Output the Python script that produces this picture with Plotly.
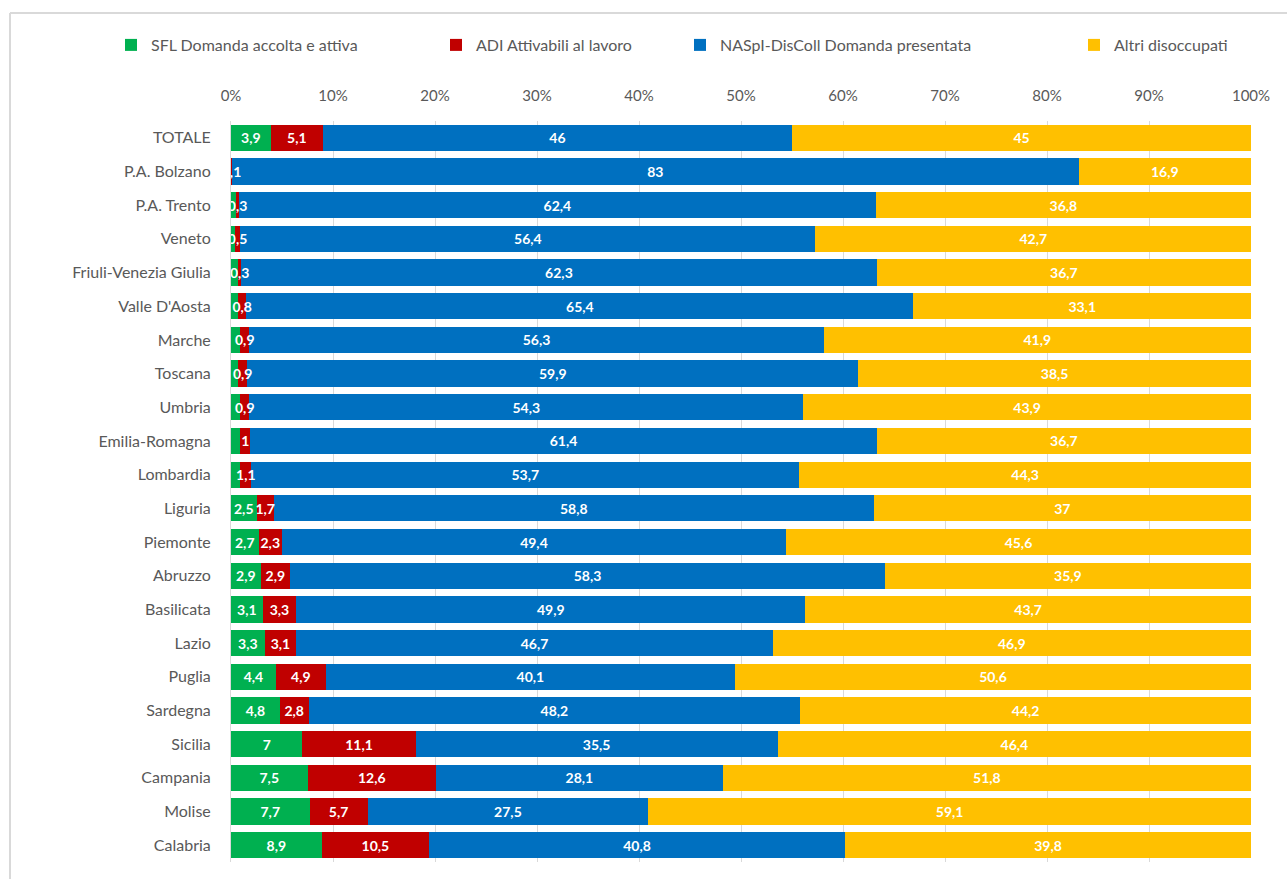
import plotly.graph_objects as go

categories = ["TOTALE", "P.A. Bolzano", "P.A. Trento", "Veneto", "Friuli-Venezia Giulia",
              "Valle D'Aosta", "Marche", "Toscana", "Umbria", "Emilia-Romagna", "Lombardia",
              "Liguria", "Piemonte", "Abruzzo", "Basilicata", "Lazio", "Puglia", "Sardegna",
              "Sicilia", "Campania", "Molise", "Calabria"]
sfl = [3.9, 0.0, 0.5, 0.4, 0.7, 0.7, 0.9, 0.7, 0.9, 0.9, 0.9,
       2.5, 2.7, 2.9, 3.1, 3.3, 4.4, 4.8, 7, 7.5, 7.7, 8.9]
adi = [5.1, 0.1, 0.3, 0.5, 0.3, 0.8, 0.9, 0.9, 0.9, 1, 1.1,
       1.7, 2.3, 2.9, 3.3, 3.1, 4.9, 2.8, 11.1, 12.6, 5.7, 10.5]
naspi = [46, 83, 62.4, 56.4, 62.3, 65.4, 56.3, 59.9, 54.3, 61.4, 53.7,
         58.8, 49.4, 58.3, 49.9, 46.7, 40.1, 48.2, 35.5, 28.1, 27.5, 40.8]
altri = [45, 16.9, 36.8, 42.7, 36.7, 33.1, 41.9, 38.5, 43.9, 36.7, 44.3,
         37, 45.6, 35.9, 43.7, 46.9, 50.6, 44.2, 46.4, 51.8, 59.1, 39.8]
series_names = ["SFL Domanda accolta e attiva", "ADI Attivabili al lavoro",
                "NASpI-DisColl Domanda presentata", "Altri disoccupati"]
colors = ["#00B050", "#C00000", "#0070C0", "#FFC000"]
tick_vals = [0, 10, 20, 30, 40, 50, 60, 70, 80, 90, 100]
tick_text = ["0%", "10%", "20%", "30%", "40%", "50%", "60%", "70%", "80%", "90%", "100%"]

FONT = "Lato, Open Sans, sans-serif"


def fmt(v):
    return f"{v:g}".replace(".", ",")


def labels(vals, hide_small):
    # in the reference, labels of tiny first segments are covered by the next label
    return ["" if (hide_small and v < 1) else fmt(v) for v in vals]


fig = go.Figure()
legend_ids = ["legend", "legend2", "legend3", "legend4"]
all_vals = [sfl, adi, naspi, altri]
# coloured bars (no text)
for i, (name, vals, col) in enumerate(zip(series_names, all_vals, colors)):
    fig.add_trace(go.Bar(
        y=categories, x=vals, name=name, orientation="h",
        marker=dict(color=col, line=dict(width=0)),
        legend=legend_ids[i], hoverinfo="x+y",
    ))
# transparent twin bars on an overlaid axis pair, so all labels sit above all bars
for i, (name, vals) in enumerate(zip(series_names, all_vals)):
    fig.add_trace(go.Bar(
        y=categories, x=vals, name=name, orientation="h", xaxis="x2", yaxis="y2",
        marker=dict(color="rgba(0,0,0,0)", line=dict(width=0)),
        text=labels(vals, i == 0), textposition="inside", insidetextanchor="middle",
        constraintext="none", textangle=0,
        textfont=dict(color="white", size=14, family=FONT, weight="bold"),
        cliponaxis=True, showlegend=False, hoverinfo="skip",
    ))

W, H = 1287, 879
ML, MR, MT, MB = 231, 36, 121, 17
pw = W - ML - MR
ph = H - MT - MB


def px_x(px):
    return (px - ML) / pw


def px_y(py):
    return (H - MB - py) / ph


legend_text_px = [147, 472, 716, 1110]
legends = {}
for lid, tx in zip(legend_ids, legend_text_px):
    legends[lid] = dict(
        x=px_x(tx - 36), xanchor="left", y=px_y(45), yanchor="middle",
        orientation="h", font=dict(size=16, color="#595959", family=FONT),
        bgcolor="rgba(0,0,0,0)", itemwidth=30, tracegroupgap=0,
    )

fig.update_layout(
    barmode="stack", bargap=0.22,
    width=W, height=H,
    margin=dict(l=ML, r=MR, t=MT, b=MB, autoexpand=False),
    paper_bgcolor="white", plot_bgcolor="white",
    separators=",.",
    font=dict(family=FONT, color="#595959"),
    xaxis=dict(range=[0, 100], side="top", tickvals=tick_vals, ticktext=tick_text,
               showgrid=True, gridcolor="#D9D9D9", gridwidth=1, zeroline=False,
               tickfont=dict(size=15, color="#595959"), ticks="", ticklabelstandoff=16,
               automargin=False, fixedrange=True),
    yaxis=dict(categoryorder="array", categoryarray=categories, autorange="reversed",
               tickfont=dict(size=16, color="#595959"), ticks="", ticklabelstandoff=16,
               automargin=False, showline=True, linecolor="#D9D9D9", linewidth=1),
    xaxis2=dict(range=[0, 100], overlaying="x", visible=False, fixedrange=True),
    yaxis2=dict(categoryorder="array", categoryarray=categories, autorange="reversed",
                overlaying="y", visible=False),
    showlegend=True,
    **legends,
)
# chart frame: top and left edges
fig.add_shape(type="line", xref="paper", yref="paper",
              x0=px_x(10), x1=px_x(W + 5), y0=px_y(13), y1=px_y(13),
              line=dict(color="#D9D9D9", width=2), layer="below")
fig.add_shape(type="line", xref="paper", yref="paper",
              x0=px_x(10), x1=px_x(10), y0=px_y(13), y1=px_y(H + 5),
              line=dict(color="#D9D9D9", width=2), layer="below")
fig.write_html("out.html", config={"displayModeBar": False},
               post_script="document.body.style.margin='0';document.body.style.overflow='hidden';")
